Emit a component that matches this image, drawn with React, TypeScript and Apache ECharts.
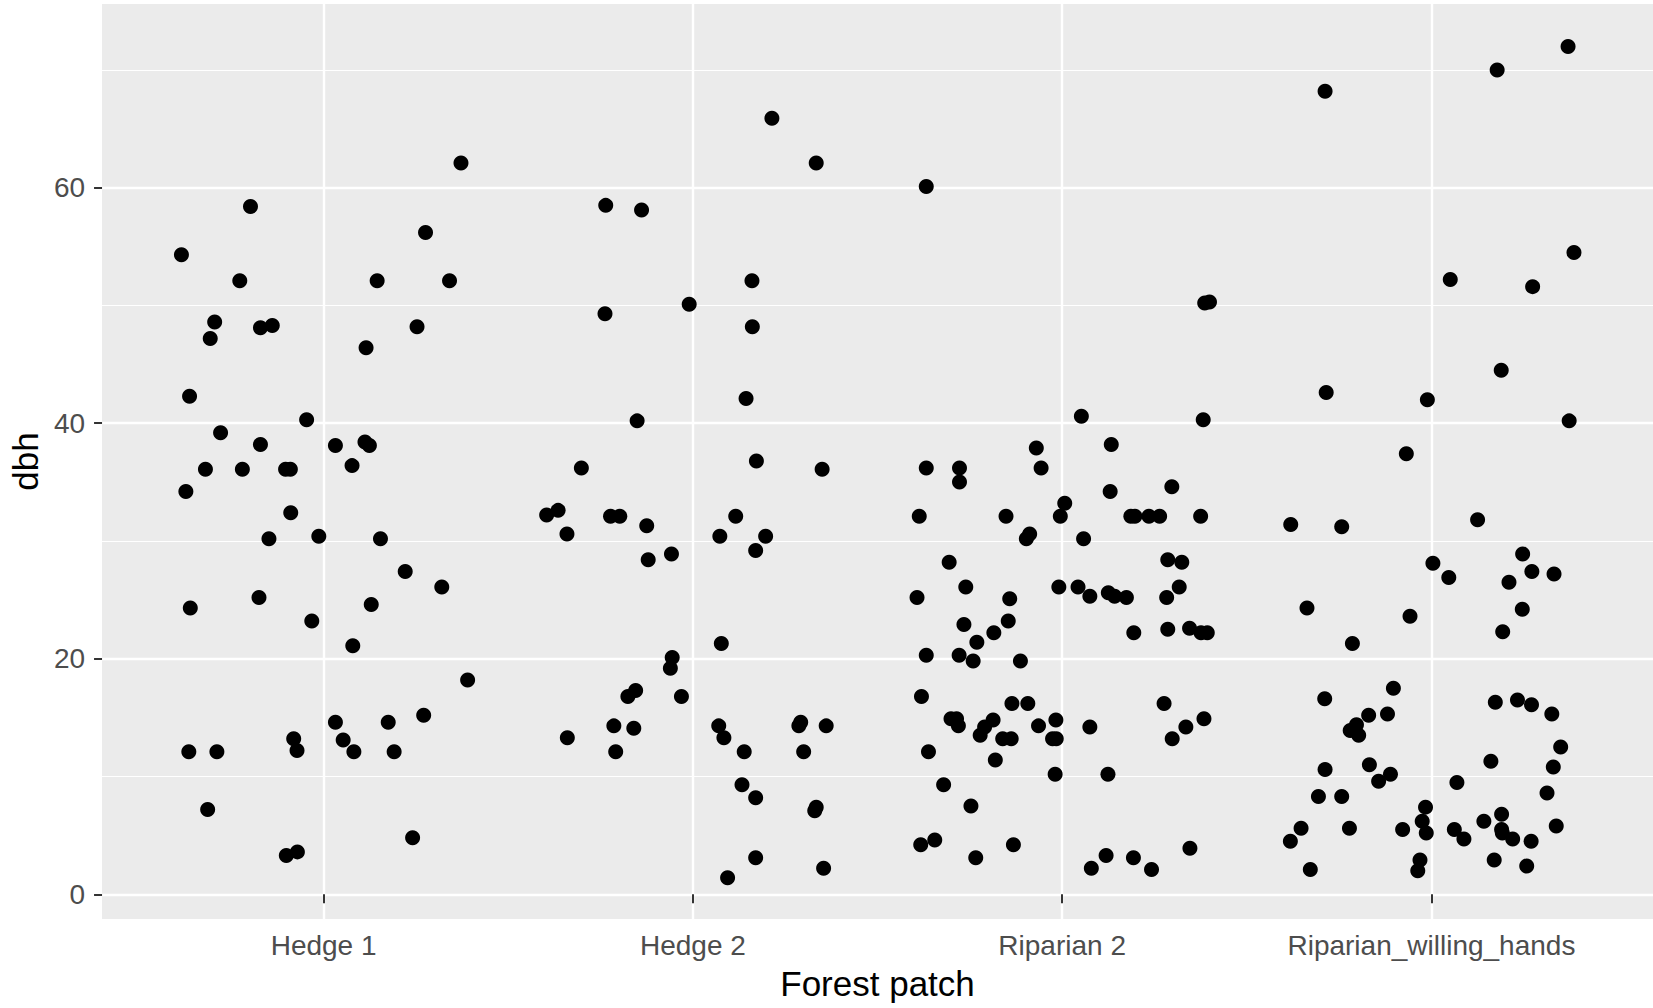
import React, { useEffect, useRef } from 'react';
import * as echarts from 'echarts';

const categories = ['Hedge 1', 'Hedge 2', 'Riparian 2', 'Riparian_willing_hands'];

const hedge1Jitter = [0.372, -0.198, 0.276, -0.385, -0.227, 0.145, 0.341, -0.295, -0.171, -0.139, -0.307, 0.253, 0.115, -0.363, -0.046, -0.279, -0.171, 0.032, 0.112, 0.124, 0.077, -0.32, -0.22, -0.103, -0.09, -0.373, -0.089, -0.148, -0.013, 0.154, 0.221, 0.32, -0.361, -0.175, 0.129, -0.032, 0.079, 0.39, 0.271, 0.032, 0.175, -0.081, -0.072, 0.053, 0.082, 0.191, -0.365, -0.289, -0.314, 0.241, -0.101, -0.071];
const hedge1Dbh = [62.1, 58.4, 56.2, 54.3, 52.1, 52.1, 52.1, 48.6, 48.1, 48.3, 47.2, 48.2, 46.4, 42.3, 40.3, 39.2, 38.2, 38.1, 38.4, 38.1, 36.4, 36.1, 36.1, 36.1, 36.1, 34.2, 32.4, 30.2, 30.4, 30.2, 27.4, 26.1, 24.3, 25.2, 24.6, 23.2, 21.1, 18.2, 15.2, 14.6, 14.6, 13.2, 12.2, 13.1, 12.1, 12.1, 12.1, 12.1, 7.2, 4.8, 3.3, 3.6];

const hedge2Jitter = [0.214, 0.334, -0.236, -0.139, 0.16, -0.01, -0.238, 0.161, 0.144, -0.151, -0.302, 0.172, 0.35, -0.396, -0.365, -0.341, -0.223, -0.198, -0.125, -0.121, -0.058, 0.116, 0.073, 0.197, 0.17, 0.077, -0.056, -0.061, -0.155, -0.176, -0.031, -0.214, -0.16, -0.34, -0.209, 0.07, 0.084, 0.139, 0.292, 0.287, 0.361, 0.3, 0.133, 0.17, 0.334, 0.33, 0.17, 0.354, 0.094];
const hedge2Dbh = [65.9, 62.1, 58.5, 58.1, 52.1, 50.1, 49.3, 48.2, 42.1, 40.2, 36.2, 36.8, 36.1, 32.2, 32.6, 30.6, 32.1, 32.1, 31.3, 28.4, 28.9, 32.1, 30.4, 30.4, 29.2, 21.3, 20.1, 19.2, 17.3, 16.8, 16.8, 14.3, 14.1, 13.3, 12.1, 14.3, 13.3, 12.1, 14.6, 14.3, 14.3, 12.1, 9.3, 8.2, 7.4, 7.1, 3.1, 2.2, 1.4];

const riparian2Jitter = [-0.368, 0.386, 0.399, 0.052, 0.382, 0.133, -0.07, -0.368, -0.278, -0.057, -0.278, 0.13, 0.297, 0.007, -0.387, -0.152, -0.005, 0.186, 0.197, 0.235, 0.264, 0.375, -0.088, -0.097, 0.058, -0.306, 0.286, 0.324, -0.261, -0.009, 0.043, 0.317, -0.393, -0.142, 0.075, 0.125, 0.142, 0.174, 0.283, -0.266, -0.146, -0.185, -0.231, 0.194, 0.286, 0.345, 0.376, 0.393, -0.368, -0.279, -0.241, -0.113, -0.381, -0.136, -0.093, 0.276, -0.301, -0.286, -0.281, -0.187, -0.21, -0.222, -0.161, -0.138, -0.064, -0.017, -0.026, -0.016, 0.075, 0.384, 0.335, 0.298, -0.362, -0.181, -0.019, 0.124, -0.321, -0.247, -0.383, -0.345, -0.132, -0.234, 0.119, 0.193, 0.346, 0.079, 0.242];
const riparian2Dbh = [60.1, 50.2, 50.3, 40.6, 40.3, 38.2, 37.9, 36.2, 36.2, 36.2, 35.0, 34.2, 34.6, 33.2, 32.1, 32.1, 32.1, 32.1, 32.1, 32.1, 32.1, 32.1, 30.6, 30.2, 30.2, 28.2, 28.4, 28.2, 26.1, 26.1, 26.1, 26.1, 25.2, 25.1, 25.3, 25.6, 25.3, 25.2, 25.2, 22.9, 23.2, 22.2, 21.4, 22.2, 22.5, 22.6, 22.2, 22.2, 20.3, 20.3, 19.8, 19.8, 16.8, 16.2, 16.2, 16.2, 14.9, 14.9, 14.3, 14.8, 14.2, 13.5, 13.2, 13.2, 14.3, 14.8, 13.2, 13.2, 14.2, 14.9, 14.2, 13.2, 12.1, 11.4, 10.2, 10.2, 9.3, 7.5, 4.2, 4.6, 4.2, 3.1, 3.3, 3.1, 3.9, 2.2, 2.1];

const willingHandsJitter = [0.37, 0.178, -0.288, 0.386, 0.051, 0.274, 0.189, -0.285, -0.011, 0.373, -0.068, -0.381, -0.243, 0.125, 0.247, 0.004, 0.047, 0.272, 0.332, 0.21, -0.337, -0.058, 0.246, 0.193, -0.214, -0.103, -0.289, 0.173, 0.233, 0.271, 0.326, -0.17, -0.119, -0.203, -0.22, -0.197, 0.35, 0.161, 0.33, -0.288, -0.168, -0.111, -0.143, 0.069, 0.313, -0.306, -0.243, -0.016, 0.19, 0.142, -0.025, 0.338, -0.353, -0.222, -0.078, -0.014, 0.062, 0.088, 0.19, 0.192, 0.22, 0.27, -0.382, -0.328, -0.031, -0.037, 0.17, 0.258];
const willingHandsDbh = [72.0, 70.0, 68.2, 54.5, 52.2, 51.6, 44.5, 42.6, 42.0, 40.2, 37.4, 31.4, 31.2, 31.8, 28.9, 28.1, 26.9, 27.4, 27.2, 26.5, 24.3, 23.6, 24.2, 22.3, 21.3, 17.5, 16.6, 16.3, 16.5, 16.1, 15.3, 15.2, 15.3, 14.4, 13.9, 13.5, 12.5, 11.3, 10.8, 10.6, 11.0, 10.2, 9.6, 9.5, 8.6, 8.3, 8.3, 7.4, 6.8, 6.2, 6.2, 5.8, 5.6, 5.6, 5.5, 5.2, 5.5, 4.7, 5.5, 5.2, 4.7, 4.5, 4.5, 2.1, 2.9, 2.0, 2.9, 2.4];

const xTickValues = [1, 2, 3, 4];
const yMajorTicks = [0, 20, 40, 60];
const yMinorTicks = [10, 30, 50, 70];

const FONT = "'Liberation Sans', Arial, Helvetica, sans-serif";

export default function App() {
  const ref = useRef<HTMLDivElement>(null);
  useEffect(() => {
    const chart = echarts.init(ref.current as HTMLDivElement, null, { renderer: 'svg' });
    const groups: [number[], number[]][] = [
      [hedge1Jitter, hedge1Dbh],
      [hedge2Jitter, hedge2Dbh],
      [riparian2Jitter, riparian2Dbh],
      [willingHandsJitter, willingHandsDbh],
    ];
    const data: number[][] = [];
    groups.forEach(([jit, dbh], ci) => {
      jit.forEach((j, i) => data.push([ci + 1 + j, dbh[i]]));
    });
    const yMin = -2.1;
    const yMax = 75.6;
    chart.setOption({
      animation: false,
      backgroundColor: '#FFFFFF',
      grid: {
        left: 102, top: 4, width: 1553, height: 915,
        show: true, backgroundColor: '#EBEBEB', borderWidth: 0,
      },
      xAxis: {
        type: 'value', min: 0.4, max: 4.6,
        axisLine: { show: false },
        axisTick: { show: true, customValues: xTickValues, length: 9, lineStyle: { color: '#333333', width: 2 } },
        axisLabel: {
          customValues: xTickValues,
          formatter: (v: number) => categories[Math.round(v) - 1] ?? '',
          color: '#4D4D4D', fontSize: 28, fontFamily: FONT, margin: 12,
        },
        splitLine: { show: true, lineStyle: { color: '#FFFFFF', width: 2.4 } },
        name: 'Forest patch', nameLocation: 'middle', nameGap: 47,
        nameTextStyle: { fontSize: 35, color: '#000000', fontFamily: FONT },
      },
      yAxis: [
        {
          type: 'value', min: yMin, max: yMax,
          axisLine: { show: false },
          axisTick: { show: true, customValues: yMajorTicks, length: 8, lineStyle: { color: '#333333', width: 2 } },
          axisLabel: { customValues: yMajorTicks, color: '#4D4D4D', fontSize: 28, fontFamily: FONT, margin: 17 },
          splitLine: { show: true, lineStyle: { color: '#FFFFFF', width: 2.4 } },
          name: 'dbh', nameLocation: 'middle', nameGap: 56, nameRotate: 90,
          nameTextStyle: { fontSize: 35, color: '#000000', fontFamily: FONT },
        },
        {
          type: 'value', min: yMin, max: yMax, position: 'left',
          axisLine: { show: false },
          axisTick: { show: false, customValues: yMinorTicks },
          axisLabel: { show: false, customValues: yMinorTicks },
          splitLine: { show: true, lineStyle: { color: '#FFFFFF', width: 1.2 } },
        },
      ],
      series: [
        {
          type: 'scatter', yAxisIndex: 0, data,
          symbol: 'circle', symbolSize: 15,
          itemStyle: { color: '#000000', opacity: 1 },
        },
      ],
    });
    return () => chart.dispose();
  }, []);
  return <div ref={ref} style={{ position: 'absolute', left: 0, top: 0, width: 1653, height: 1008 }} />;
}
